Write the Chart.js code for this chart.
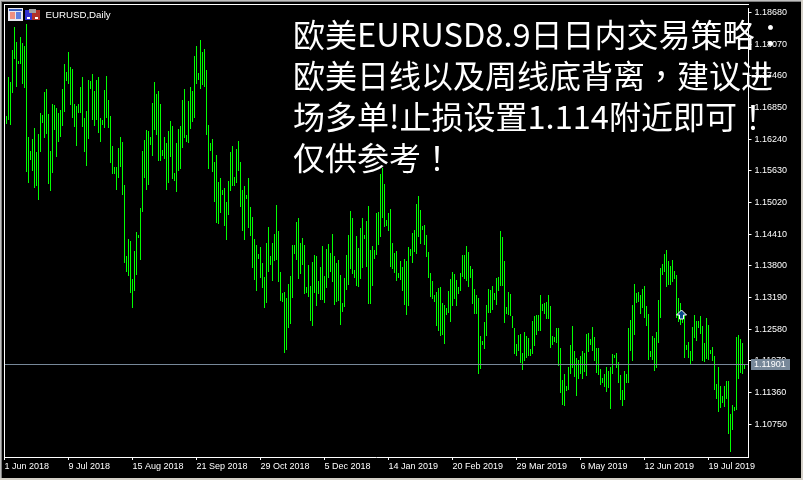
<!DOCTYPE html>
<html>
<head>
<meta charset="utf-8">
<script src="https://cdn.jsdelivr.net/npm/chart.js@4"></script>
<style>
html,body{margin:0;padding:0;background:#000;}
canvas{display:block;}
</style>
</head>
<body>
<canvas id="c" width="803" height="480"></canvas>
<script>
const symbolLabel = "EURUSD,Daily";
const tickDates = ["1 Jun 2018","9 Jul 2018","15 Aug 2018","21 Sep 2018","29 Oct 2018","5 Dec 2018","14 Jan 2019","20 Feb 2019","29 Mar 2019","6 May 2019","12 Jun 2019","19 Jul 2019"];
const priceTicks = [1.18680,1.18070,1.17460,1.16850,1.16240,1.15630,1.15020,1.14410,1.13800,1.13190,1.12580,1.11970,1.11360,1.10750];
const lastPrice = 1.11901;
const arrowSlot = 338;
const arrowPrice = 1.1285;
const noteLines = ["欧美EURUSD8.9日日内交易策略：","欧美日线以及周线底背离，建议进","场多单!止损设置1.114附近即可！","仅供参考！"];

const highs = [
1.1668,1.1744,1.1733,1.1796,1.1839,1.1811,1.1775,1.1820,1.1809,1.1803,
1.1845,1.1628,1.1601,1.1624,1.1645,1.1599,1.1634,1.1675,1.1670,1.1714,
1.1721,1.1672,1.1601,1.1691,1.1689,1.1683,1.1674,1.1681,1.1721,1.1769,
1.1754,1.1792,1.1763,1.1759,1.1691,1.1687,1.1691,1.1725,1.1744,1.1664,
1.1679,1.1738,1.1735,1.1750,1.1717,1.1738,1.1744,1.1664,1.1660,1.1719,
1.1746,1.1700,1.1668,1.1611,1.1571,1.1571,1.1607,1.1628,1.1618,1.1536,
1.1399,1.1432,1.1428,1.1355,1.1409,1.1445,1.1439,1.1491,1.1601,1.1622,
1.1641,1.1639,1.1628,1.1693,1.1733,1.1710,1.1717,1.1691,1.1603,1.1628,
1.1616,1.1639,1.1658,1.1649,1.1559,1.1616,1.1643,1.1649,1.1700,1.1721,
1.1632,1.1698,1.1725,1.1716,1.1784,1.1803,1.1752,1.1815,1.1792,1.1797,
1.1758,1.1651,1.1616,1.1624,1.1580,1.1594,1.1542,1.1550,1.1527,1.1529,
1.1502,1.1544,1.1599,1.1611,1.1552,1.1605,1.1620,1.1580,1.1527,1.1534,
1.1517,1.1550,1.1493,1.1475,1.1432,1.1420,1.1403,1.1416,1.1386,1.1359,
1.1424,1.1454,1.1399,1.1424,1.1441,1.1498,1.1447,1.1369,1.1327,1.1329,
1.1319,1.1346,1.1361,1.1420,1.1420,1.1464,1.1472,1.1424,1.1433,1.1420,
1.1340,1.1382,1.1342,1.1388,1.1401,1.1399,1.1350,1.1378,1.1418,1.1361,
1.1412,1.1422,1.1405,1.1441,1.1399,1.1386,1.1391,1.1363,1.1308,1.1357,
1.1401,1.1439,1.1485,1.1473,1.1372,1.1437,1.1414,1.1453,1.1472,1.1439,
1.1466,1.1496,1.1411,1.1418,1.1411,1.1481,1.1483,1.1557,1.1569,1.1538,
1.1468,1.1481,1.1489,1.1424,1.1405,1.1409,1.1367,1.1390,1.1378,1.1393,
1.1390,1.1416,1.1412,1.1443,1.1449,1.1500,1.1514,1.1487,1.1456,1.1458,
1.1439,1.1407,1.1367,1.1350,1.1323,1.1329,1.1338,1.1340,1.1308,1.1304,
1.1298,1.1332,1.1355,1.1369,1.1365,1.1353,1.1340,1.1367,1.1401,1.1401,
1.1418,1.1407,1.1380,1.1374,1.1336,1.1323,1.1319,1.1245,1.1235,1.1271,
1.1304,1.1336,1.1334,1.1342,1.1327,1.1357,1.1359,1.1447,1.1435,1.1390,
1.1300,1.1329,1.1325,1.1283,1.1260,1.1229,1.1247,1.1249,1.1212,1.1252,
1.1245,1.1241,1.1220,1.1273,1.1283,1.1285,1.1285,1.1323,1.1306,1.1309,
1.1311,1.1323,1.1302,1.1245,1.1243,1.1260,1.1260,1.1222,1.1161,1.1172,
1.1149,1.1186,1.1228,1.1264,1.1216,1.1203,1.1199,1.1207,1.1216,1.1212,
1.1249,1.1250,1.1239,1.1262,1.1243,1.1222,1.1222,1.1182,1.1165,1.1172,
1.1186,1.1178,1.1186,1.1210,1.1209,1.1212,1.1195,1.1170,1.1142,1.1178,
1.1172,1.1260,1.1275,1.1304,1.1346,1.1327,1.1329,1.1323,1.1336,1.1342,
1.1302,1.1287,1.1216,1.1245,1.1241,1.1252,1.1315,1.1376,1.1384,1.1403,
1.1411,1.1390,1.1380,1.1391,1.1370,1.1363,1.1319,1.1309,1.1292,1.1285,
1.1228,1.1233,1.1216,1.1262,1.1285,1.1273,1.1273,1.1283,1.1264,1.1231,
1.1279,1.1266,1.1218,1.1224,1.1207,1.1153,1.1186,1.1149,1.1130,1.1149,
1.1159,1.1159,1.1094,1.1113,1.1109,1.1243,1.1247,1.1239,1.1231,1.1189
];
const lows = [
1.1653,1.1660,1.1651,1.1712,1.1778,1.1725,1.1769,1.1769,1.1731,1.1723,
1.1561,1.1540,1.1584,1.1563,1.1529,1.1534,1.1506,1.1599,1.1655,1.1626,
1.1634,1.1538,1.1525,1.1559,1.1641,1.1590,1.1618,1.1628,1.1649,1.1677,
1.1735,1.1731,1.1689,1.1664,1.1647,1.1611,1.1675,1.1674,1.1647,1.1599,
1.1573,1.1624,1.1721,1.1660,1.1649,1.1660,1.1635,1.1618,1.1651,1.1645,
1.1664,1.1645,1.1578,1.1557,1.1557,1.1527,1.1550,1.1571,1.1517,1.1386,
1.1369,1.1361,1.1327,1.1298,1.1332,1.1363,1.1433,1.1391,1.1483,1.1550,
1.1527,1.1536,1.1613,1.1592,1.1641,1.1632,1.1582,1.1582,1.1592,1.1586,
1.1527,1.1540,1.1590,1.1548,1.1544,1.1523,1.1563,1.1567,1.1607,1.1626,
1.1618,1.1616,1.1643,1.1656,1.1664,1.1731,1.1737,1.1721,1.1729,1.1725,
1.1632,1.1567,1.1601,1.1561,1.1502,1.1462,1.1460,1.1481,1.1517,1.1456,
1.1430,1.1477,1.1525,1.1533,1.1534,1.1540,1.1563,1.1493,1.1447,1.1430,
1.1508,1.1453,1.1437,1.1376,1.1353,1.1332,1.1393,1.1357,1.1338,1.1298,
1.1309,1.1369,1.1382,1.1350,1.1390,1.1391,1.1348,1.1313,1.1311,1.1212,
1.1218,1.1260,1.1268,1.1319,1.1403,1.1391,1.1355,1.1365,1.1382,1.1325,
1.1327,1.1321,1.1273,1.1264,1.1327,1.1302,1.1325,1.1315,1.1315,1.1308,
1.1338,1.1357,1.1369,1.1348,1.1304,1.1311,1.1313,1.1266,1.1292,1.1300,
1.1334,1.1344,1.1374,1.1365,1.1357,1.1342,1.1340,1.1355,1.1376,1.1432,
1.1378,1.1306,1.1306,1.1342,1.1393,1.1401,1.1420,1.1435,1.1473,1.1454,
1.1456,1.1447,1.1378,1.1374,1.1367,1.1350,1.1357,1.1353,1.1332,1.1304,
1.1285,1.1302,1.1399,1.1386,1.1407,1.1403,1.1435,1.1422,1.1449,1.1420,
1.1397,1.1357,1.1321,1.1317,1.1311,1.1264,1.1254,1.1245,1.1247,1.1229,
1.1285,1.1290,1.1271,1.1302,1.1317,1.1302,1.1325,1.1332,1.1359,1.1355,
1.1351,1.1340,1.1357,1.1306,1.1287,1.1287,1.1172,1.1182,1.1228,1.1220,
1.1245,1.1290,1.1290,1.1296,1.1315,1.1304,1.1332,1.1342,1.1342,1.1270,
1.1287,1.1285,1.1283,1.1260,1.1210,1.1207,1.1216,1.1193,1.1180,1.1197,
1.1203,1.1207,1.1207,1.1210,1.1226,1.1247,1.1254,1.1254,1.1294,1.1287,
1.1277,1.1277,1.1222,1.1228,1.1233,1.1231,1.1188,1.1136,1.1113,1.1111,
1.1140,1.1142,1.1172,1.1184,1.1167,1.1130,1.1163,1.1172,1.1163,1.1176,
1.1168,1.1214,1.1228,1.1216,1.1197,1.1174,1.1170,1.1151,1.1155,1.1146,
1.1138,1.1144,1.1104,1.1172,1.1203,1.1184,1.1155,1.1121,1.1111,1.1121,
1.1155,1.1155,1.1216,1.1197,1.1247,1.1308,1.1311,1.1287,1.1298,1.1279,
1.1264,1.1199,1.1205,1.1199,1.1178,1.1184,1.1231,1.1279,1.1363,1.1369,
1.1340,1.1344,1.1344,1.1348,1.1355,1.1279,1.1271,1.1266,1.1270,1.1203,
1.1218,1.1203,1.1189,1.1197,1.1241,1.1235,1.1260,1.1249,1.1197,1.1195,
1.1201,1.1199,1.1210,1.1197,1.1142,1.1123,1.1098,1.1107,1.1117,1.1109,
1.1123,1.1056,1.1021,1.1065,1.1100,1.1102,1.1163,1.1174,1.1172,1.1182
];

const slotCount = 373;
const stepTicks = 32;
const categories = Array.from({length: slotCount}, (_, i) => i % stepTicks === 0 ? tickDates[i / stepTicks] : "");
const ranges = categories.map((_, i) => {
  const k = i - 1;
  return k >= 0 && k < highs.length ? [lows[k], highs[k]] : null;
});

function drawNote(c, text, x, y) {
  const runs = text.match(/[\x21-\x7e]+|[：，！]|[^\x21-\x7e：，！]+/g);
  runs.forEach(r => {
    if (/^[\x21-\x7e]/.test(r)) c.font = '32.6px "Noto Sans CJK SC"';
    else if (/^[：，！]/.test(r)) c.font = '32px "Noto Sans CJK TC"';
    else c.font = '32px "Noto Sans CJK SC"';
    c.fillText(r, x, y);
    x += c.measureText(r).width;
  });
}

const decor = {
  id: "decor",
  beforeDraw(chart) {
    const c = chart.ctx;
    c.save();
    c.fillStyle = "#000";
    c.fillRect(0, 0, 803, 480);
    c.fillStyle = "#c0c0c0";
    c.fillRect(0, 0, 803, 1); c.fillRect(0, 0, 1, 480);
    c.fillStyle = "#808080";
    c.fillRect(1, 1, 801, 1); c.fillRect(1, 1, 1, 478);
    c.fillStyle = "#d4d0c8";
    c.fillRect(0, 478, 803, 2); c.fillRect(801, 0, 2, 480);
    c.restore();
  },
  afterDatasetsUpdate(chart) {
    const meta = chart.getDatasetMeta(0);
    meta.data.forEach(el => {
      if (el && !el.skip) { el.y = Math.round(el.y); el.base = Math.round(el.base); el.height = el.base - el.y; }
    });
  },
  afterDraw(chart) {
    const c = chart.ctx, a = chart.chartArea, xs = chart.scales.x, ys = chart.scales.y;
    c.save();
    c.fillStyle = "#fff";
    c.fillRect(4, 4, 745, 1);
    c.fillRect(4, 4, 1, 454);
    const py = Math.floor(ys.getPixelForValue(lastPrice));
    c.fillStyle = "#778899";
    c.fillRect(5, py, 743, 1);
    c.fillRect(751, py - 5, 39, 11);
    c.fillStyle = "#fff";
    c.font = '9px "Liberation Sans"';
    c.textBaseline = "middle";
    c.textAlign = "left";
    c.fillText(lastPrice.toFixed(5), 754, py + 0.5);
    const ax = Math.round(xs.getPixelForValue(arrowSlot)) + 0.5, ay = Math.round(ys.getPixelForValue(arrowPrice));
    c.beginPath();
    c.moveTo(ax, ay - 5);
    c.lineTo(ax + 5, ay);
    c.lineTo(ax + 2, ay);
    c.lineTo(ax + 2, ay + 4);
    c.lineTo(ax - 2, ay + 4);
    c.lineTo(ax - 2, ay);
    c.lineTo(ax - 5, ay);
    c.closePath();
    c.fillStyle = "#0a4a8a";
    c.strokeStyle = "#fff";
    c.lineWidth = 1;
    c.fill();
    c.stroke();
    c.fillStyle = "#e8e8f0"; c.fillRect(8, 8, 15, 13);
    c.fillStyle = "#3a5fc0"; c.fillRect(9, 9, 13, 2);
    c.fillStyle = "#f09080"; c.fillRect(10, 12, 5, 7);
    c.fillStyle = "#6080e0"; c.fillRect(16, 12, 5, 7);
    c.fillStyle = "#3030d0"; c.fillRect(25, 10, 7, 10);
    c.fillStyle = "#b03028"; c.fillRect(32, 10, 8, 10);
    c.fillStyle = "#a0a0a0"; c.fillRect(29, 9, 7, 4);
    c.fillStyle = "#fff"; c.fillRect(27, 17, 3, 2); c.fillRect(35, 17, 3, 2);
    c.fillStyle = "#fff";
    c.font = '9.7px "Liberation Sans"';
    c.textBaseline = "middle";
    c.fillText(symbolLabel, 45.5, 15);
    c.textBaseline = "alphabetic";
    noteLines.forEach((t, i) => drawNote(c, t, 293, 47 + i * 41));
    c.restore();
  }
};

new Chart(document.getElementById("c"), {
  type: "bar",
  data: {
    labels: categories,
    datasets: [{
      data: ranges,
      backgroundColor: "#00ff00",
      borderWidth: 0,
      borderSkipped: false,
      inflateAmount: 0,
      barThickness: 1
    }]
  },
  plugins: [decor],
  options: {
    responsive: false,
    animation: false,
    events: [],
    devicePixelRatio: 1,
    layout: { padding: { left: 4.5, top: 4, right: 0, bottom: 0 } },
    plugins: { legend: { display: false }, tooltip: { enabled: false }, title: { display: false } },
    scales: {
      x: {
        type: "category",
        offset: false,
        grid: { offset: false, drawOnChartArea: false, drawTicks: true, tickLength: 3, tickColor: "#fff", color: "#fff" },
        border: { color: "#fff", display: true },
        ticks: { autoSkip: false, maxRotation: 0, minRotation: 0, align: "start", color: "#fff", padding: 1, font: { family: "Liberation Sans", size: 9 } },
        afterBuildTicks(s) { s.ticks = s.ticks.filter(t => t.value % stepTicks === 0); },
        afterFit(s) { s.height = 23; }
      },
      y: {
        position: "right",
        min: 1.101209,
        max: 1.1875625,
        grid: { drawOnChartArea: false, drawTicks: true, tickLength: 3, tickColor: "#fff", color: "#fff" },
        border: { color: "#fff", display: true },
        ticks: { autoSkip: false, color: "#fff", padding: 3, font: { family: "Liberation Sans", size: 9 }, callback: v => v.toFixed(5) },
        afterBuildTicks(s) { s.ticks = priceTicks.map(v => ({ value: v })); },
        afterFit(s) { s.width = 54.5; }
      }
    }
  }
});
</script>
</body>
</html>
